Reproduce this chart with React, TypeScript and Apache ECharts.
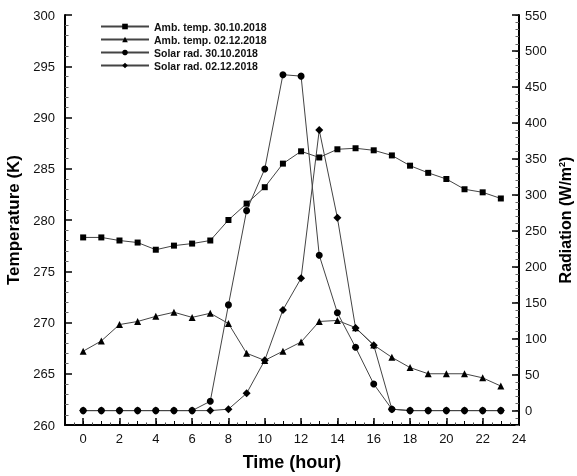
import React, { useEffect, useRef } from "react";
import * as echarts from "echarts";

const hours = [0, 1, 2, 3, 4, 5, 6, 7, 8, 9, 10, 11, 12, 13, 14, 15, 16, 17, 18, 19, 20, 21, 22, 23];
const ambTemp3010 = [278.3, 278.3, 278.0, 277.8, 277.1, 277.5, 277.7, 278.0, 280.0, 281.6, 283.2, 285.5, 286.7, 286.1, 286.9, 287.0, 286.8, 286.3, 285.3, 284.6, 284.0, 283.0, 282.7, 282.1];
const ambTemp0212 = [267.2, 268.2, 269.8, 270.1, 270.6, 271.0, 270.5, 270.9, 269.9, 267.0, 266.3, 267.2, 268.1, 270.1, 270.2, 269.5, 267.8, 266.6, 265.6, 265.0, 265.0, 265.0, 264.6, 263.8];
const solar3010 = [0, 0, 0, 0, 0, 0, 0, 13, 147, 278, 336, 467, 465, 216, 136, 88, 37, 2, 0, 0, 0, 0, 0, 0];
const solar0212 = [0, 0, 0, 0, 0, 0, 0, 0, 2, 24, 70, 140, 184, 390, 268, 115, 91, 2, 0, 0, 0, 0, 0, 0];
const seriesNames = ["Amb. temp. 30.10.2018", "Amb. temp. 02.12.2018", "Solar rad. 30.10.2018", "Solar rad. 02.12.2018"];
const radLabels = [0, 50, 100, 150, 200, 250, 300, 350, 400, 450, 500, 550];
const evenHours = [0, 2, 4, 6, 8, 10, 12, 14, 16, 18, 20, 22, 24];

const FONT = "'Liberation Sans', Arial, sans-serif";

export default function App() {
  const ref = useRef<HTMLDivElement>(null);
  useEffect(() => {
    if (!ref.current) return;
    const chart = echarts.init(ref.current, undefined, { renderer: "svg" });
    const pair = (arr: number[]) => hours.map((h, i) => [h, arr[i]]);
    const axisLineStyle = { color: "#000", width: 2 };
    const lineSeries = (name: string, data: number[], symbol: string, size: number, yi: number) => ({
      name,
      type: "line",
      yAxisIndex: yi,
      data: pair(data),
      symbol,
      symbolSize: size,
      showSymbol: true,
      lineStyle: { color: "#444", width: 1 },
      itemStyle: { color: "#000" },
    });
    chart.setOption({
      animation: false,
      textStyle: { fontFamily: FONT },
      grid: { left: 65, right: 58, top: 15, bottom: 51, outerBoundsMode: "none", containLabel: false },
      legend: {
        orient: "vertical",
        left: 100,
        top: 21,
        padding: 0,
        itemWidth: 48,
        itemHeight: 7,
        itemGap: 2,
        textStyle: { fontSize: 10.5, fontWeight: "bold", color: "#111", fontFamily: FONT },
        data: seriesNames,
      },
      xAxis: [
        {
          type: "value",
          min: -1,
          max: 24,
          interval: 1,
          position: "bottom",
          name: "Time (hour)",
          nameLocation: "middle",
          nameGap: 28,
          nameTextStyle: { fontSize: 18, fontWeight: "bold", color: "#000", fontFamily: FONT },
          axisLine: { onZero: false, lineStyle: axisLineStyle },
          axisTick: { inside: true, length: 4, lineStyle: { color: "#000" } },
          minorTick: { show: true, splitNumber: 2, length: 2.5, lineStyle: { color: "#444" } },
          axisLabel: {
            fontSize: 13,
            color: "#111",
            margin: 7,
            formatter: (v: number) => (v >= 0 && v % 2 === 0 ? String(v) : ""),
          },
          splitLine: { show: false },
        },
        {
          type: "value",
          min: -1,
          max: 24,
          position: "bottom",
          axisLine: { show: false, onZero: false },
          axisTick: { inside: true, length: 7, customValues: evenHours, lineStyle: { color: "#000", width: 1.5 } },
          axisLabel: { show: false },
          splitLine: { show: false },
        },
      ],
      yAxis: [
        {
          type: "value",
          min: 260,
          max: 300,
          interval: 5,
          position: "left",
          name: "Temperature (K)",
          nameLocation: "middle",
          nameRotate: 90,
          nameGap: 34,
          nameTextStyle: { fontSize: 17, fontWeight: "bold", color: "#000", fontFamily: FONT },
          axisLine: { show: true, onZero: false, lineStyle: axisLineStyle },
          axisTick: { inside: true, length: 7, lineStyle: { color: "#000", width: 1.5 } },
          minorTick: { show: true, splitNumber: 5, length: 3.5, lineStyle: { color: "#666" } },
          axisLabel: { fontSize: 13, color: "#111", margin: 10 },
          splitLine: { show: false },
        },
        {
          type: "value",
          min: -20,
          max: 550,
          interval: 10,
          position: "right",
          name: "Radiation (W/m{sup|2})",
          nameLocation: "middle",
          nameRotate: 90,
          nameGap: 37,
          nameTextStyle: {
            fontSize: 16,
            fontWeight: "bold",
            color: "#000",
            fontFamily: FONT,
            rich: { sup: { fontSize: 9, fontWeight: "bold", verticalAlign: "top", lineHeight: 12 } },
          },
          axisLine: { show: true, onZero: false, lineStyle: axisLineStyle },
          axisTick: { inside: true, length: 3.5, lineStyle: { color: "#666" } },
          axisLabel: { fontSize: 13, color: "#111", margin: 6, customValues: radLabels },
          splitLine: { show: false },
        },
        {
          type: "value",
          min: -20,
          max: 550,
          position: "right",
          axisLine: { show: false, onZero: false },
          axisTick: { inside: true, length: 7, customValues: radLabels, lineStyle: { color: "#000", width: 1.5 } },
          axisLabel: { show: false },
          splitLine: { show: false },
        },
      ],
      series: [
        lineSeries(seriesNames[0], ambTemp3010, "rect", 6, 0),
        lineSeries(seriesNames[1], ambTemp0212, "triangle", 7, 0),
        lineSeries(seriesNames[2], solar3010, "circle", 7, 1),
        lineSeries(seriesNames[3], solar0212, "diamond", 8, 1),
      ],
    });
    return () => chart.dispose();
  }, []);
  return <div ref={ref} style={{ position: "fixed", left: 0, top: 0, width: 577, height: 476 }} />;
}
